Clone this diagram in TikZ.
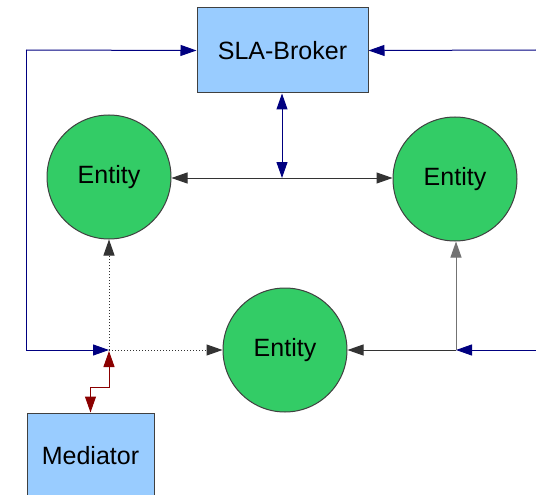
\documentclass[tikz,border=0pt]{standalone}
\usepackage{fontspec}
\setmainfont{Liberation Sans}
\usepackage{xcolor}
\usepackage{tikz}
\usetikzlibrary{shapes,arrows,arrows.meta,positioning}

\definecolor{boxblue}{HTML}{99CCFF}
\definecolor{entgreen}{HTML}{33CC66}
\definecolor{linkblue}{HTML}{000080}
\definecolor{linkred}{HTML}{8B0000}

\tikzset{
    tip/.style={-{Triangle[length=16pt,width=11pt]}},
    twotip/.style={{Triangle[length=16pt,width=11pt]}-{Triangle[length=16pt,width=11pt]}},
    agent/.style={draw=black!75, fill=boxblue, font=\fontsize{25}{30}\selectfont},
    entity/.style={draw=black!75, fill=entgreen, circle, inner sep=0pt, minimum size=124pt, font=\fontsize{25}{30}\selectfont},
    bluelink/.style={draw=linkblue, line width=1pt},
    redlink/.style={draw=linkred, line width=1pt}
}

\begin{document}
\begin{tikzpicture}[x=1pt, y=-1pt, line width=1pt]
    \useasboundingbox (0,0) rectangle (536,495);

    \node[agent, minimum width=171pt, minimum height=85pt] (broker) at (282.5,50.5) {SLA-Broker};
    \node[entity] (entl) at (109,177) {Entity};
    \node[entity] (entr) at (455,179) {Entity};
    \node[entity] (entb) at (285,350) {Entity};
    \node[agent, minimum width=127pt, minimum height=85pt] (med) at (90.5,455.5) {Mediator};

    % corners and junctions
    \coordinate (lt) at (26,50);
    \coordinate (lb) at (26,350);
    \coordinate (rt) at (536,50);
    \coordinate (rb) at (536,350);
    \coordinate (jl) at (109,350);
    \coordinate (jr) at (456,350);
    \coordinate (jt) at (282,178);
    \coordinate (rk) at (109,387);

    % broker links
    \draw[bluelink, tip] (lt) -- (broker.west);
    \draw[bluelink, tip] (lt) -- (lb) -- (jl);
    \draw[bluelink, tip] (rt) -- (broker.east);
    \draw[bluelink, tip] (rb) -- (jr);
    \draw[bluelink, twotip] (jt |- broker.south) -- (jt);

    % entity links
    \draw[black!80, tip] (jt) -- (jt -| entl.east);
    \draw[black!80, tip] (jt) -- (jt -| entr.west);
    \draw[black!80, dotted, tip] (jl) -- (jl |- entl.south);
    \draw[black!80, dotted, tip] (jl) -- (jl -| entb.west);
    \draw[black!80, tip] (jr) -- (jr -| entb.east);
    \draw[black!55, tip] (jr) -- (jr |- entr.south);

    % mediator link
    \draw[redlink, twotip, shorten <=1pt] (jl) -- (rk) -| (med.north);
\end{tikzpicture}
\end{document}
